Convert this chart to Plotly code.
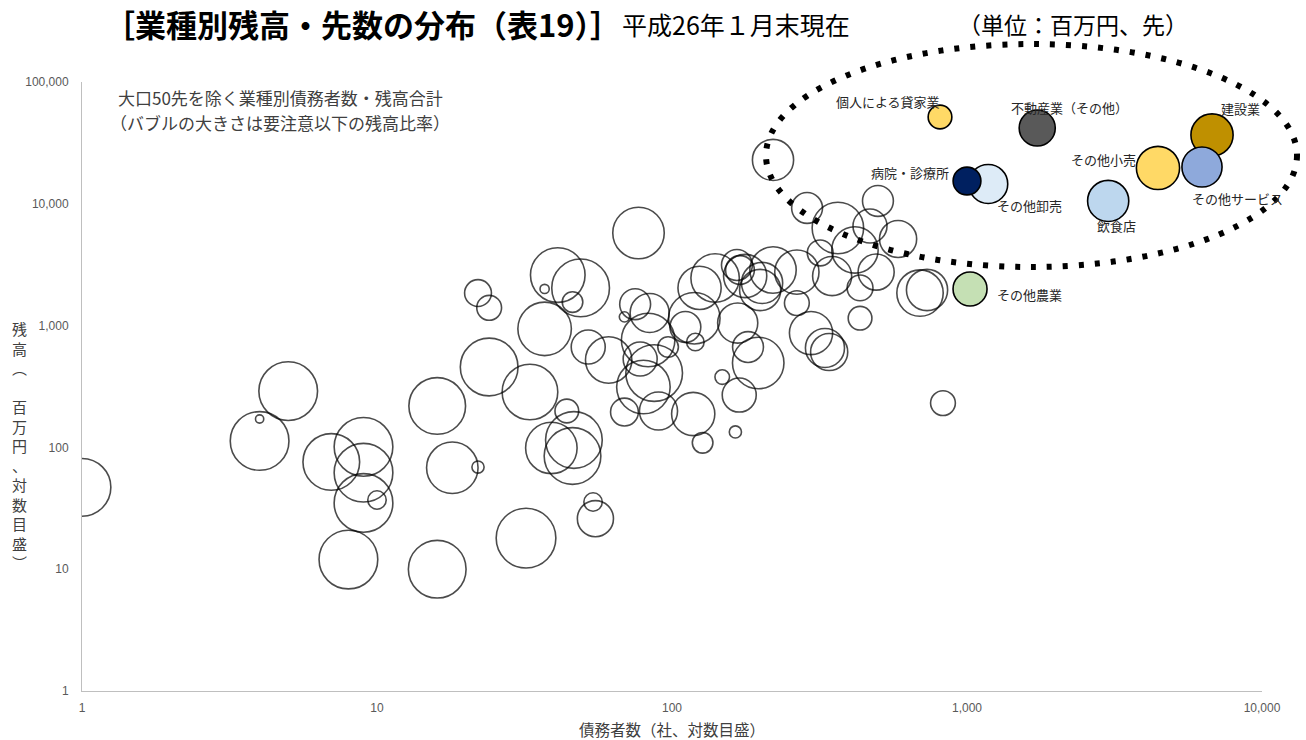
import numpy as np
import plotly.graph_objects as go

# ---------------- data ----------------
# industries other than the highlighted ones: debtor count, balance (million yen), bubble ratio
debtors = [1.0, 5.0, 4.0, 4.0, 7.0, 9.0, 9.0, 9.0, 10, 8.0,
           16, 18, 22, 16, 22, 24, 24, 33, 32, 41,
           49, 37, 46, 37, 44, 39, 46.5, 46, 54, 55,
           77, 52, 61, 75, 84, 69, 83, 78, 87, 80,
           97, 69, 90, 118, 127, 111, 120, 119, 124, 140,
           148, 169, 164, 196, 167, 181, 166, 177, 170, 202,
           220, 265, 199, 265, 296, 330, 349, 434, 492, 434,
           693, 732, 829, 341, 318, 417, 365, 499, 469, 584,
           287, 220]
balance = [47, 290, 113, 171, 76, 101, 62, 35, 37, 12,
           219, 68, 69, 10, 1850, 1400, 457, 285, 18, 2600,
           2040, 2000, 1560, 940, 199, 99, 115, 85, 35.6, 26,
           5760, 667, 522, 1500, 1270, 1180, 762, 532, 408, 313,
           667, 195, 199, 188, 109, 974, 733, 1150, 2040, 2460,
           378, 269, 134, 493, 1050, 667, 3145, 2555, 2860, 2240,
           2860, 2750, 1960, 1530, 869, 655, 2550, 2040, 2750, 1150,
           1850, 1960, 231, 607, 3950, 4180, 6330, 10550, 6570, 5140,
           9240, 22900]
ratio = [3.14, 3.25, 3.25, 0.064, 3.03, 3.25, 3.25, 3.25, 0.32, 3.25,
         3.03, 2.5, 0.14, 3.14, 0.68, 0.58, 3.14, 2.92, 3.36, 2.81,
         3.14, 0.08, 0.4, 2.7, 0.53, 2.5, 3.03, 3.03, 0.32, 1.23,
         2.5, 1.09, 2.03, 0.9, 1.44, 0.1, 2.7, 1.09, 3.03, 2.7,
         0.4, 0.73, 1.37, 1.76, 0.4, 0.9, 0.29, 2.5, 1.76, 2.21,
         0.2, 1.09, 0.14, 2.5, 1.52, 0.9, 0.9, 1.76, 0.78, 1.6,
         2.03, 1.85, 1.6, 0.58, 1.76, 1.44, 1.44, 0.63, 1.23, 0.53,
         2.03, 1.6, 0.58, 1.3, 0.63, 2.03, 2.5, 0.9, 1.09, 1.3,
         0.9, 1.6]

# highlighted industries
hl_names = ["個人による貸家業", "不動産業（その他）", "建設業", "その他サービス", "その他小売",
            "飲食店", "その他卸売", "病院・診療所", "その他農業"]
hl_debtors = [810, 1730, 6770, 6260, 4440, 3010, 1180, 1000, 1024]
hl_balance = [51600, 41900, 36700, 20050, 19700, 10550, 14550, 15390, 2000]
hl_ratio = [0.53, 1.23, 1.68, 1.52, 1.76, 1.6, 1.44, 0.73, 1.09]

x_tickvals = [1, 10, 100, 1000, 10000]
x_ticktext = ["1", "10", "100", "1,000", "10,000"]
y_tickvals = [1, 10, 100, 1000, 10000, 100000]
y_ticktext = ["1", "10", "100", "1,000", "10,000", "100,000"]

# ---------------- styles ----------------
hl_colors = ["#FFD966", "#595959", "#BF9000", "#8EA9DB", "#FFD966",
             "#BDD7EE", "#DDEBF7", "#002060", "#C5E0B4"]
label_shift = {  # (xshift, yshift) in px relative to bubble centre
    "個人による貸家業": (-52, 16), "不動産業（その他）": (32, 21), "建設業": (28, 27),
    "その他小売": (-54, 8), "その他サービス": (36, -31), "飲食店": (8, -25),
    "病院・診療所": (-57, 8), "その他卸売": (41, -22), "その他農業": (59, -6),
}

W, H = 1306, 740
L, R, T, B = 82, 44, 82, 49
PW, PH = W - L - R, H - T - B
JP = "Noto Sans CJK JP"
SIZEREF = 1 / 530.0


def xp(px):
    return (px - L) / PW


def yp(py):
    return (H - B - py) / PH


fig = go.Figure()
fig.add_trace(go.Scatter(
    x=debtors, y=balance, mode="markers", hoverinfo="skip",
    marker=dict(size=ratio, sizemode="area", sizeref=SIZEREF,
                color="rgba(0,0,0,0)", line=dict(color="black", width=1.6)),
))
fig.add_trace(go.Scatter(
    x=hl_debtors, y=hl_balance, mode="markers", text=hl_names, hoverinfo="text",
    marker=dict(size=hl_ratio, sizemode="area", sizeref=SIZEREF,
                color=hl_colors, line=dict(color="black", width=1.6), opacity=1),
))

ann = []
for n, xv, yv in zip(hl_names, hl_debtors, hl_balance):
    dx, dy = label_shift[n]
    ann.append(dict(x=np.log10(xv), y=np.log10(yv), xref="x", yref="y", text=n,
                    showarrow=False, xshift=dx, yshift=dy, xanchor="center", yanchor="middle",
                    font=dict(family=JP, size=13, color="#262626")))

# titles
ann.append(dict(x=xp(102), y=yp(23), xref="paper", yref="paper", xanchor="left", yanchor="middle",
                text="<b>［業種別残高・先数の分布（表19）］</b>", showarrow=False,
                font=dict(family=JP, size=31, color="#000000")))
ann.append(dict(x=xp(620), y=yp(24), xref="paper", yref="paper", xanchor="left", yanchor="middle",
                text="平成26年１月末現在", showarrow=False,
                font=dict(family=JP, size=25, color="#000000")))
ann.append(dict(x=xp(956), y=yp(24), xref="paper", yref="paper", xanchor="left", yanchor="middle",
                text="（単位：百万円、先）", showarrow=False,
                font=dict(family=JP, size=23, color="#000000")))
# note (two lines)
ann.append(dict(x=xp(116), y=yp(98), xref="paper", yref="paper", xanchor="left", yanchor="middle",
                text="大口50先を除く業種別債務者数・残高合計",
                showarrow=False, font=dict(family=JP, size=17, color="#404040")))
ann.append(dict(x=xp(108), y=yp(122), xref="paper", yref="paper", xanchor="left", yanchor="middle",
                text="（バブルの大きさは要注意以下の残高比率）",
                showarrow=False, font=dict(family=JP, size=17, color="#404040")))
# axis titles
ytitle = "<br>".join(list("残高︵　百万円、対数目盛︶"))
ann.append(dict(x=xp(19), y=yp(445), xref="paper", yref="paper", xanchor="center", yanchor="middle",
                text=ytitle, showarrow=False, align="center",
                font=dict(family=JP, size=15, color="#404040")))
ann.append(dict(x=xp(672), y=yp(729), xref="paper", yref="paper", xanchor="center", yanchor="middle",
                text="債務者数（社、対数目盛）", showarrow=False,
                font=dict(family=JP, size=15.5, color="#404040")))

# dotted highlight ellipse
shapes = [dict(type="circle", xref="paper", yref="paper",
               x0=xp(766), x1=xp(1297), y0=yp(267), y1=yp(44),
               line=dict(color="black", width=6, dash="5px,11px"), layer="above")]

fig.update_layout(
    width=W, height=H, autosize=False,
    margin=dict(l=L, r=R, t=T, b=B, pad=0),
    paper_bgcolor="white", plot_bgcolor="white",
    showlegend=False,
    annotations=ann, shapes=shapes,
    xaxis=dict(type="log", range=[0, 4], showgrid=False, zeroline=False,
               showline=True, linecolor="#BFBFBF", linewidth=1, ticks="",
               tickvals=x_tickvals, ticktext=x_ticktext, ticklabelstandoff=6,
               tickfont=dict(family="Liberation Sans Narrow, Liberation Sans", size=12, color="#595959"),
               automargin=False),
    yaxis=dict(type="log", range=[0, 5], showgrid=False, zeroline=False,
               showline=True, linecolor="#BFBFBF", linewidth=1, ticks="",
               tickvals=y_tickvals, ticktext=y_ticktext, ticklabelstandoff=10,
               tickfont=dict(family="Liberation Sans", size=12, color="#595959"),
               automargin=False),
)

fig.write_html("out.html")
